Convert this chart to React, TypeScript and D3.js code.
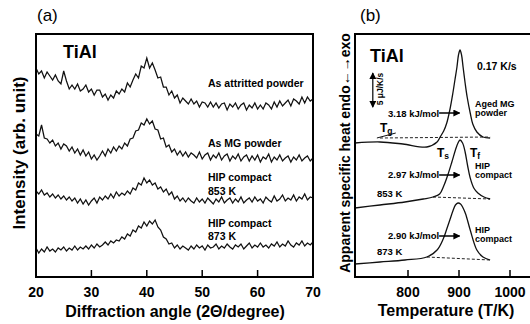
import React, { useEffect, useRef } from "react"
import * as d3 from "d3"

// ---- (a) XRD patterns, sampled every 0.5 deg from 20 to 70 ----
const twoTheta = d3.range(101).map(i => 20 + i * 0.5)
const xrdTicks = [20, 30, 40, 50, 60, 70]

const attritted = [
  209, 203, 206, 199, 205, 201, 197, 202, 196, 193,
  206, 196, 188, 192, 188, 193, 186, 188, 192, 185,
  188, 182, 187, 187, 180, 183, 177, 182, 179, 186,
  183, 188, 185, 194, 190, 197, 203, 199, 211, 209,
  219, 209, 214, 207, 199, 200, 190, 190, 182, 186,
  179, 182, 174, 179, 176, 173, 178, 173, 176, 170,
  175, 174, 170, 175, 170, 174, 169, 173, 174, 167,
  173, 170, 174, 168, 172, 174, 167, 172, 169, 174,
  168, 172, 168, 174, 172, 168, 175, 170, 176, 171,
  174, 177, 171, 178, 176, 173, 180, 174, 180, 176,
  178,
]
const mgPowder = [
  143, 141, 152, 139, 138, 134, 137, 131, 134, 128,
  133, 131, 126, 130, 124, 128, 122, 127, 121, 125,
  118, 122, 117, 121, 126, 121, 128, 124, 130, 126,
  131, 128, 134, 131, 138, 139, 146, 147, 154, 152,
  158, 153, 156, 148, 147, 138, 139, 130, 132, 125,
  128, 122, 126, 121, 125, 120, 124, 122, 119, 125,
  118, 122, 124, 117, 122, 119, 124, 117, 121, 123,
  116, 121, 118, 123, 116, 120, 122, 116, 121, 117,
  122, 115, 120, 118, 123, 115, 120, 117, 122, 116,
  119, 121, 115, 120, 117, 122, 116, 119, 121, 116,
  119,
]
const hip853 = [
  86, 83, 87, 82, 84, 80, 83, 79, 82, 78,
  81, 77, 80, 76, 79, 74, 78, 73, 77, 72,
  76, 79, 74, 80, 77, 81, 78, 83, 79, 85,
  81, 84, 82, 86, 83, 89, 87, 94, 92, 99,
  94, 97, 92, 94, 88, 90, 85, 88, 82, 85,
  78, 81, 76, 79, 75, 79, 76, 74, 79, 75,
  78, 74, 79, 76, 73, 78, 75, 80, 74, 77,
  79, 74, 78, 75, 80, 74, 77, 79, 75, 80,
  76, 78, 74, 80, 77, 75, 81, 76, 78, 82,
  76, 79, 77, 82, 76, 80, 78, 83, 77, 80,
  79,
]
const hip873 = [
  29, 24, 28, 25, 30, 26, 28, 25, 29, 27,
  30, 26, 29, 27, 31, 27, 30, 28, 31, 28,
  32, 29, 33, 30, 32, 35, 32, 36, 34, 37,
  36, 40, 38, 43, 41, 47, 45, 51, 49, 55,
  51, 56, 53, 57, 50, 47, 40, 38, 33, 34,
  29, 32, 28, 31, 29, 27, 31, 28, 32, 29,
  31, 27, 32, 29, 30, 33, 28, 31, 29, 33,
  30, 28, 32, 30, 33, 28, 31, 34, 29, 32,
  30, 34, 30, 32, 29, 33, 31, 35, 30, 33,
  31, 36, 32, 30, 34, 32, 36, 31, 34, 32,
  35,
]

// ---- (b) DSC curves (temperature in K, heat in arb. unit) ----
const dscTicks = [800, 900, 1000]

const agedT = [696, 745, 790, 837, 857, 863, 870, 876, 882, 888, 892, 896, 899, 902, 905, 908, 912, 916, 922, 927, 935, 947, 961]
const agedHeat = [134, 135, 133, 130, 135, 140, 146, 154, 167, 184, 197, 210, 222, 227, 222, 210, 194, 180, 164, 153, 145, 140, 139]
const agedBaseT = [745, 961]
const agedBaseHeat = [139, 140]

const hip853T = [696, 745, 794, 830, 849, 862, 870, 878, 886, 893, 898, 902, 907, 912, 917, 922, 929, 937, 949, 961]
const hip853Heat = [69, 72, 75, 78, 80, 83, 91, 102, 115, 127, 134, 137, 134, 125, 111, 99, 89, 84, 80, 78]
const hip853BaseT = [849, 961]
const hip853BaseHeat = [80, 78]

const hip873T = [696, 745, 794, 837, 857, 869, 876, 882, 888, 893, 898, 903, 908, 913, 922, 935, 947, 961]
const hip873Heat = [13, 15, 17, 20, 27, 38, 48, 57, 66, 72, 74, 73, 69, 63, 47, 27, 20, 17]
const hip873BaseT = [837, 961]
const hip873BaseHeat = [20, 17]

const FONT = "'Liberation Sans', Arial, Helvetica, sans-serif"

export default function App() {
  const svgRef = useRef<SVGSVGElement>(null)

  useEffect(() => {
    const svg = d3.select(svgRef.current)
    svg.selectAll("*").remove()
    svg.append("defs").append("marker")
      .attr("id", "head")
      .attr("viewBox", "0 0 8 8")
      .attr("refX", 7)
      .attr("refY", 4)
      .attr("markerWidth", 7)
      .attr("markerHeight", 7)
      .attr("markerUnits", "userSpaceOnUse")
      .attr("orient", "auto-start-reverse")
      .append("path")
      .attr("d", "M0,0 L8,4 L0,8 z")
      .attr("fill", "#000")
    drawXrd(svg)
    drawDsc(svg)
  }, [])

  return (
    <>
      <style>{"body{margin:0;background:#fff}"}</style>
      <svg ref={svgRef} width={530} height={324} style={{ display: "block", background: "#fff", fontFamily: FONT }} />
    </>
  )
}

function txt(g, x, y, s, size, weight = "bold", anchor = "start") {
  return g.append("text")
    .attr("x", x)
    .attr("y", y)
    .attr("font-size", size)
    .attr("font-weight", weight)
    .attr("text-anchor", anchor)
    .attr("fill", "#000")
    .text(s)
}

function drawXrd(svg) {
  const x = d3.scaleLinear().domain([20, 70]).range([36, 313])
  const y = d3.scaleLinear().domain([0, 243]).range([277, 34])
  const g = svg.append("g")

  const line = d3.line<number>()
    .x((_, i) => x(twoTheta[i]))
    .y(d => y(d))

  g.selectAll(".xrd")
    .data([attritted, mgPowder, hip853, hip873])
    .join("path")
    .attr("class", "xrd")
    .attr("d", d => line(d))
    .attr("fill", "none")
    .attr("stroke", "#111")
    .attr("stroke-width", 1.25)

  g.selectAll(".tick")
    .data(xrdTicks.slice(1, -1))
    .join("line")
    .attr("class", "tick")
    .attr("x1", d => x(d)).attr("x2", d => x(d))
    .attr("y1", 277).attr("y2", 270)
    .attr("stroke", "#000").attr("stroke-width", 1.5)

  g.selectAll(".tlab")
    .data(xrdTicks)
    .join("text")
    .attr("class", "tlab")
    .attr("x", d => x(d)).attr("y", 297)
    .attr("text-anchor", "middle")
    .attr("font-size", 14).attr("font-weight", "bold")
    .text(d => d)

  g.append("rect")
    .attr("x", 36).attr("y", 34).attr("width", 277).attr("height", 243)
    .attr("fill", "none").attr("stroke", "#000").attr("stroke-width", 2)

  txt(g, 37, 21, "(a)", 17, "normal")
  txt(g, 63, 58, "TiAl", 18)
  txt(g, 208, 87, "As attritted powder", 10.5)
  txt(g, 208, 147, "As MG powder", 10.5)
  txt(g, 208, 181, "HIP compact", 10.5)
  txt(g, 208, 195, "853 K", 10.5)
  txt(g, 208, 227, "HIP compact", 10.5)
  txt(g, 208, 240, "873 K", 10.5)

  txt(g, 175, 317, "Diffraction angle (2\u0398/degree)", 16, "bold", "middle")
  g.append("text")
    .attr("transform", "translate(25,153) rotate(-90)")
    .attr("text-anchor", "middle")
    .attr("font-size", 17).attr("font-weight", "bold")
    .text("Intensity (arb. unit)")
}

function drawDsc(svg) {
  const x = d3.scaleLinear().domain([700, 1000]).range([357, 510])
  const y = d3.scaleLinear().domain([0, 243]).range([277, 34])
  const g = svg.append("g")

  const line = d3.line<[number, number]>()
    .x(d => x(d[0]))
    .y(d => y(d[1]))
    .curve(d3.curveCatmullRom.alpha(0.5))

  const curves = [
    d3.zip(agedT, agedHeat),
    d3.zip(hip853T, hip853Heat),
    d3.zip(hip873T, hip873Heat),
  ]
  const bases = [
    d3.zip(agedBaseT, agedBaseHeat),
    d3.zip(hip853BaseT, hip853BaseHeat),
    d3.zip(hip873BaseT, hip873BaseHeat),
  ]

  g.selectAll(".base")
    .data(bases)
    .join("path")
    .attr("class", "base")
    .attr("d", d => line(d))
    .attr("fill", "none")
    .attr("stroke", "#222")
    .attr("stroke-width", 1)
    .attr("stroke-dasharray", "3,2")

  g.selectAll(".dsc")
    .data(curves)
    .join("path")
    .attr("class", "dsc")
    .attr("d", d => line(d))
    .attr("fill", "none")
    .attr("stroke", "#111")
    .attr("stroke-width", 1.3)

  // tangent used for Tg
  g.append("line")
    .attr("x1", x(739)).attr("y1", y(139))
    .attr("x2", x(776)).attr("y2", y(144))
    .attr("stroke", "#111").attr("stroke-width", 1)

  g.selectAll(".tick")
    .data(dscTicks)
    .join("line")
    .attr("class", "tick")
    .attr("x1", d => x(d)).attr("x2", d => x(d))
    .attr("y1", 277).attr("y2", 270)
    .attr("stroke", "#000").attr("stroke-width", 1.5)

  g.selectAll(".tlab")
    .data(dscTicks)
    .join("text")
    .attr("class", "tlab")
    .attr("x", d => x(d)).attr("y", 297)
    .attr("text-anchor", "middle")
    .attr("font-size", 14).attr("font-weight", "bold")
    .text(d => d)

  g.append("path")
    .attr("d", "M540,34 H355 V277 H540")
    .attr("fill", "none").attr("stroke", "#000").attr("stroke-width", 2)

  // scale bar 5 µJ/K/s
  g.append("line")
    .attr("x1", x(731)).attr("x2", x(731))
    .attr("y1", y(170)).attr("y2", y(204))
    .attr("stroke", "#000").attr("stroke-width", 1.2)
    .attr("marker-start", "url(#head)").attr("marker-end", "url(#head)")
  g.append("text")
    .attr("transform", `translate(${x(731) + 10},89) rotate(-90)`)
    .attr("text-anchor", "middle")
    .attr("font-size", 8.5).attr("font-weight", "bold")
    .text("5 \u03bcJ/K/s")

  // enthalpy arrows
  ;[[164, "3.18 kJ/mol", 117], [102, "2.97 kJ/mol", 178], [41, "2.90 kJ/mol", 239]].forEach(([h, s, by]) => {
    g.append("line")
      .attr("x1", x(861)).attr("x2", x(901))
      .attr("y1", y(h)).attr("y2", y(h))
      .attr("stroke", "#000").attr("stroke-width", 1.5)
      .attr("marker-end", "url(#head)")
    txt(g, 388, by, s, 9.5)
  })

  txt(g, 360, 21, "(b)", 17, "normal")
  txt(g, 370, 62, "TiAl", 18)
  txt(g, 477, 70, "0.17 K/s", 10.5)
  txt(g, 475, 107, "Aged MG", 9)
  txt(g, 475, 116, "powder", 9)
  txt(g, 475, 169, "HIP", 9)
  txt(g, 475, 178, "compact", 9)
  txt(g, 475, 233, "HIP", 9)
  txt(g, 475, 242, "compact", 9)
  txt(g, 377, 197, "853 K", 9.5)
  txt(g, 377, 255, "873 K", 9.5)

  const sub = (px, py, sb) => {
    const t = g.append("text").attr("x", px).attr("y", py)
      .attr("font-size", 12).attr("font-weight", "bold")
    t.append("tspan").text("T")
    t.append("tspan").attr("dy", 2).attr("font-size", 8.5).text(sb)
  }
  sub(380, 132, "g")
  sub(437, 157, "s")
  sub(470, 157, "f")

  txt(g, 446, 316, "Temperature (T/K)", 16, "bold", "middle")
  g.append("text")
    .attr("transform", "translate(350,153) rotate(-90)")
    .attr("text-anchor", "middle")
    .attr("font-size", 14).attr("font-weight", "bold")
    .text("Apparent specific heat endo\u2190\u2192exo")
}
